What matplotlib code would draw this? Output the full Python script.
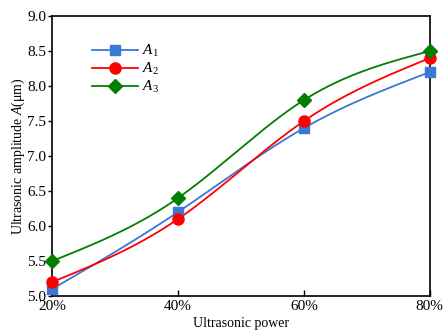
import numpy as np
import matplotlib
matplotlib.use("Agg")
import matplotlib.pyplot as plt

plt.rcParams['font.family'] = ['Liberation Serif', 'DejaVu Serif']
plt.rcParams['mathtext.fontset'] = 'custom'
plt.rcParams['mathtext.rm'] = 'Liberation Serif'
plt.rcParams['mathtext.it'] = 'Liberation Serif:italic'

power = [20, 40, 60, 80]
tick_labels = ['20%', '40%', '60%', '80%']
A1 = [5.1, 6.2, 7.4, 8.2]
A2 = [5.2, 6.1, 7.5, 8.4]
A3 = [5.5, 6.4, 7.8, 8.5]


def natural_spline(x, y, n=200):
    x = np.asarray(x, float); y = np.asarray(y, float)
    k = len(x)
    h = np.diff(x)
    M = np.zeros((k, k)); r = np.zeros(k)
    M[0, 0] = 1; M[-1, -1] = 1
    for i in range(1, k - 1):
        M[i, i - 1] = h[i - 1]; M[i, i] = 2 * (h[i - 1] + h[i]); M[i, i + 1] = h[i]
        r[i] = 6 * ((y[i + 1] - y[i]) / h[i] - (y[i] - y[i - 1]) / h[i - 1])
    m = np.linalg.solve(M, r)
    xs = np.linspace(x[0], x[-1], n)
    idx = np.clip(np.searchsorted(x, xs) - 1, 0, k - 2)
    x0 = x[idx]; x1 = x[idx + 1]; hh = x1 - x0
    ys = (m[idx] * (x1 - xs) ** 3 / (6 * hh) + m[idx + 1] * (xs - x0) ** 3 / (6 * hh)
          + (y[idx] / hh - m[idx] * hh / 6) * (x1 - xs)
          + (y[idx + 1] / hh - m[idx + 1] * hh / 6) * (xs - x0))
    return xs, ys


fig = plt.figure(figsize=(4.44, 3.35), dpi=100)
ax = fig.add_axes([0.117, 0.116, 0.851, 0.836])

series = [(A1, '#3a78d4', 's', r'$A_1$', 7),
          (A2, '#ff0000', 'o', r'$A_2$', 8),
          (A3, '#007f00', 'D', r'$A_3$', 7)]
for y, c, mk, lab, ms in series:
    xs, ys = natural_spline(power, y)
    ax.plot(xs, ys, color=c, lw=1.3, clip_on=False)
    ax.plot(power, y, linestyle='none', marker=mk, color=c, ms=ms, clip_on=False, zorder=5)
    ax.plot([], [], color=c, lw=1.3, marker=mk, ms=ms, label=lab)

ax.set_xlim(20, 80)
ax.set_ylim(5.0, 9.0)
ax.set_xticks(power)
ax.set_xticklabels(tick_labels)
ax.set_yticks(np.arange(5.0, 9.01, 0.5))
ax.set_yticklabels([f'{v:.1f}' for v in np.arange(5.0, 9.01, 0.5)])
ax.tick_params(axis='x', direction='in', labelsize=11, length=4, width=1, pad=3)
ax.tick_params(axis='y', direction='out', labelsize=11, length=3, width=1, pad=1)
for s in ax.spines.values():
    s.set_linewidth(1.2)
ax.set_xlabel('Ultrasonic power', fontsize=10, labelpad=3)
ax.set_ylabel(r'Ultrasonic amplitude $A$(μm)', fontsize=10, labelpad=0)

ax.legend(loc='upper left', bbox_to_anchor=(0.09, 0.925), frameon=False, fontsize=11,
          handlelength=3.0, labelspacing=0.12, borderaxespad=0, handletextpad=0.3)

fig.savefig('out.png', dpi=100)
